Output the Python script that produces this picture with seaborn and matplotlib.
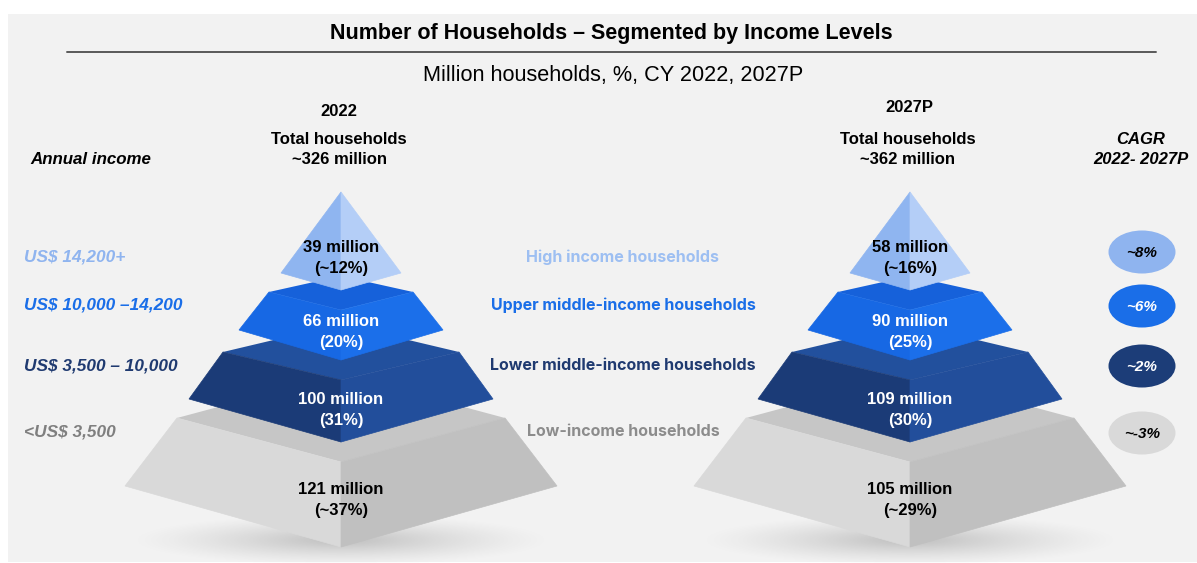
import numpy as np
import pandas as pd
import matplotlib
matplotlib.use("Agg")
import matplotlib.pyplot as plt
from matplotlib.patches import Polygon, Rectangle
from matplotlib.path import Path
from matplotlib.transforms import Affine2D
import seaborn as sns

# ---- data -------------------------------------------------------------
segments = ["High income households", "Upper middle-income households",
            "Lower middle-income households", "Low-income households"]
income_bands = ["US$ 14,200+", "US$ 10,000 \u201314,200",
                "US$ 3,500 \u2013 10,000", "<US$ 3,500"]
households_2022 = [39, 66, 100, 121]
shares_2022 = ["~12%", "20%", "31%", "~37%"]
households_2027 = [58, 90, 109, 105]
shares_2027 = ["~16%", "25%", "30%", "~29%"]
cagr_labels = ["~8%", "~6%", "~2%", "~-3%"]
total_2022 = 326
total_2027 = 362

# ---- style --------------------------------------------------------------
sns.set_theme(style="white")
plt.rcParams["font.family"] = ["Liberation Sans", "DejaVu Sans"]
plt.rcParams["text.color"] = "black"

seg_colors = ["#8fb4ef", "#1a6ee8", "#1c3d78", "#d9d9d9"]
band_colors = ["#8fb4ef", "#1a6ee8", "#1f3a70", "#7f7f7f"]
mid_colors = ["#9dbff2", "#1a6ee8", "#1f3a70", "#8c8c8c"]
inner_text = ["black", "white", "white", "black"]
bubble_text = ["black", "white", "white", "black"]

W, H = 1197, 563
fig = plt.figure(figsize=(W / 100, H / 100), dpi=100)
ax = fig.add_axes([0, 0, 1, 1])
ax.set_xlim(0, W)
ax.set_ylim(H, 0)
ax.axis("off")
fig.patch.set_facecolor("white")

# panel
ax.add_patch(Rectangle((8, 14), W - 8, 548, facecolor="#f2f2f2",
                       edgecolor="none", zorder=0))

# header
ax.text(611, 34, "Number of Households \u2013 Segmented by Income Levels",
        ha="center", va="center", fontsize=15.5, fontweight="bold", color="black")
ax.plot([67, 1156], [52, 52], color="#595959", lw=1.4, zorder=2)
ax.text(613, 75, "Million households, %, CY 2022, 2027P",
        ha="center", va="center", fontsize=15.6, color="black")

row_y = [257, 305, 366, 432]
label_y = [(247, 268), (322, 342), (400, 421), (490, 511)]

# geometry of the stacked pyramid (relative to its centre line)
tiers = [
    dict(top_hw=164, top_y=418, back_y=374, front_y=462, bot_hw=216, bot_y=486, bot_front=547,
         top_c="#c6c6c6", left_c="#d9d9d9", right_c="#c0c0c0"),
    dict(top_hw=118, top_y=352, back_y=324, front_y=380, bot_hw=152, bot_y=399, bot_front=442,
         top_c="#22509d", left_c="#1b3b77", right_c="#224e9b"),
    dict(top_hw=72, top_y=292, back_y=276, front_y=310, bot_hw=102, bot_y=330, bot_front=360,
         top_c="#1661da", left_c="#1768e4", right_c="#1b6fea"),
]
apex = dict(apex_y=192, hw=60, corner_y=273, front_y=290,
            left_c="#8fb5f0", right_c="#b4cef7")


def draw_shadow(cx):
    xs = np.linspace(-1, 1, 200)
    ys = np.linspace(-1, 1, 60)
    gx, gy = np.meshgrid(xs, ys)
    r = np.sqrt(gx ** 2 + gy ** 2)
    alpha = np.clip(1 - r, 0, 1) ** 1.3 * 0.45
    rgba = np.zeros((60, 200, 4))
    rgba[..., :3] = 0.5
    rgba[..., 3] = alpha
    ax.imshow(rgba, extent=(cx - 210, cx + 210, 566, 514), zorder=1,
              interpolation="bilinear", aspect="auto")


def draw_pyramid(cx):
    draw_shadow(cx)
    z = 2
    for t in tiers:
        lt = (cx - t["top_hw"], t["top_y"])
        rt = (cx + t["top_hw"], t["top_y"])
        bk = (cx, t["back_y"])
        ft = (cx, t["front_y"])
        lb = (cx - t["bot_hw"], t["bot_y"])
        rb = (cx + t["bot_hw"], t["bot_y"])
        fb = (cx, t["bot_front"])
        ax.add_patch(Polygon([lt, bk, rt, ft], closed=True, facecolor=t["top_c"],
                             edgecolor="none", zorder=z))
        ax.add_patch(Polygon([lt, ft, fb, lb], closed=True, facecolor=t["left_c"],
                             edgecolor=t["left_c"], lw=0.5, zorder=z))
        ax.add_patch(Polygon([ft, rt, rb, fb], closed=True, facecolor=t["right_c"],
                             edgecolor=t["right_c"], lw=0.5, zorder=z))
        z += 1
    a = apex
    ax.add_patch(Polygon([(cx, a["apex_y"]), (cx - a["hw"], a["corner_y"]), (cx, a["front_y"])],
                         closed=True, facecolor=a["left_c"], edgecolor=a["left_c"], lw=0.5, zorder=z))
    ax.add_patch(Polygon([(cx, a["apex_y"]), (cx, a["front_y"]), (cx + a["hw"], a["corner_y"])],
                         closed=True, facecolor=a["right_c"], edgecolor=a["right_c"], lw=0.5, zorder=z))


def label_pyramid(cx, values, shares):
    for i, (v, s) in enumerate(zip(values, shares)):
        y1, y2 = label_y[i]
        ax.text(cx, y1, f"{v} million", ha="center", va="center", fontsize=12,
                fontweight="bold", color=inner_text[i], zorder=10)
        ax.text(cx, y2, f"({s})", ha="center", va="center", fontsize=12,
                fontweight="bold", color=inner_text[i], zorder=10)


cx_2022, cx_2027 = 341, 910
draw_pyramid(cx_2022)
draw_pyramid(cx_2027)
label_pyramid(cx_2022, households_2022, shares_2022)
label_pyramid(cx_2027, households_2027, shares_2027)

# column headers
ax.text(339, 112, "2022", ha="center", va="center", fontsize=12, fontweight="bold")
ax.text(909, 107, "2027P", ha="center", va="center", fontsize=12, fontweight="bold")
for cx, tot in [(339, total_2022), (908, total_2027)]:
    ax.text(cx, 140, "Total households", ha="center", va="center", fontsize=12, fontweight="bold")
    ax.text(cx, 160, f"~{tot} million", ha="center", va="center", fontsize=12, fontweight="bold")
ax.text(1141, 140, "CAGR", ha="center", va="center", fontsize=12,
        fontweight="bold", style="italic")
ax.text(1141, 160, "2022- 2027P", ha="center", va="center", fontsize=12,
        fontweight="bold", style="italic")
ax.text(30, 160, "Annual income", ha="left", va="center", fontsize=12.2,
        fontweight="bold", style="italic")

# income bands and segment names
for i in range(4):
    ax.text(24, row_y[i], income_bands[i], ha="left", va="center", fontsize=12.4,
            fontweight="bold", style="italic", color=band_colors[i])
    ax.text(623, row_y[i], segments[i], ha="center", va="center", fontsize=11.5,
            fontweight="bold", color=mid_colors[i], family=["Inter", "DejaVu Sans"])

# CAGR bubbles
bubble_y = [252, 306, 366, 433]
bubble_x = [1142] * 4
ellipse = Path.unit_circle().transformed(Affine2D().scale(1.0, 0.642))
cagr_df = pd.DataFrame({"x": bubble_x, "y": bubble_y, "segment": segments})
sns.scatterplot(data=cagr_df, x="x", y="y", hue="segment",
                palette=dict(zip(segments, seg_colors)), marker=ellipse,
                s=2327, linewidth=0, legend=False, ax=ax, zorder=5)
for i in range(4):
    ax.text(bubble_x[i], bubble_y[i] + 1, cagr_labels[i], ha="center", va="center",
            fontsize=11, fontweight="bold", style="italic", color=bubble_text[i], zorder=10)

ax.set_xlim(0, W)
ax.set_ylim(H, 0)
ax.set_xlabel("")
ax.set_ylabel("")
fig.savefig("out.png", dpi=100, facecolor="white")
